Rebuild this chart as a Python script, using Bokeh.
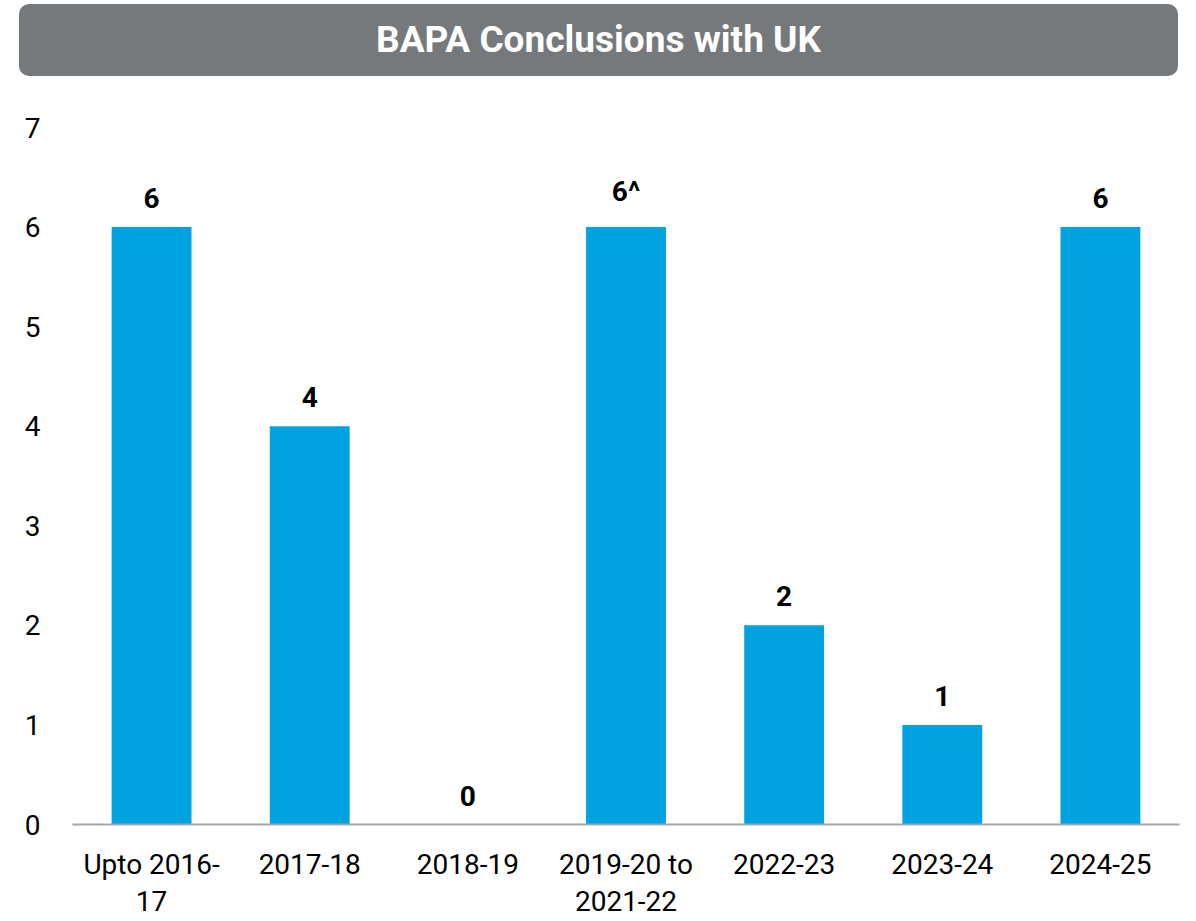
from bokeh.plotting import figure
from bokeh.models import ColumnDataSource, Div, FactorRange
from bokeh.layouts import column
from bokeh.core.properties import value
from bokeh.embed import file_html
from bokeh.resources import INLINE

categories = ["Upto 2016-\n17", "2017-18", "2018-19", "2019-20 to\n2021-22", "2022-23", "2023-24", "2024-25"]
counts = [6, 4, 0, 6, 2, 1, 6]
bar_labels = ["6", "4", "0", "6^", "2", "1", "6"]
y_ticks = [0, 1, 2, 3, 4, 5, 6, 7]

FONT = "Roboto"

title_div = Div(
    text=(
        '<div style="width:1159px;height:72px;background:#76797c;border-radius:10px;'
        'display:flex;align-items:center;justify-content:center;color:#ffffff;'
        f'font-family:{FONT};font-weight:bold;font-size:37px;">BAPA Conclusions with UK</div>'
    ),
    width=1159, height=72, margin=(4, 0, 0, 19),
)

source = ColumnDataSource(dict(cat=categories, val=counts, lab=bar_labels))

p = figure(
    x_range=FactorRange(factors=categories, range_padding=0),
    y_range=(0, 7),
    width=1190, height=845,
    output_backend="svg", toolbar_location=None,
    min_border_left=72, min_border_right=11, min_border_top=51, min_border_bottom=94,
)
p.outline_line_color = None
p.grid.grid_line_color = None

p.vbar(x="cat", top="val", width=0.505, source=source, color="#00a3e0", line_color=None)
p.text(x="cat", y="val", text="lab", source=source, y_offset=-19,
       text_align="center", text_baseline="bottom",
       text_font=value(FONT), text_font_style="bold", text_font_size="28px",
       text_color="#000000")

p.yaxis.ticker = y_ticks
p.yaxis.axis_line_color = None
p.yaxis.major_tick_line_color = None
p.yaxis.minor_tick_line_color = None
p.yaxis.major_label_standoff = 26
p.yaxis.major_label_text_font = FONT
p.yaxis.major_label_text_font_size = "28px"
p.yaxis.major_label_text_color = "#000000"

p.xaxis.axis_line_color = "#a6a6a6"
p.xaxis.axis_line_width = 2
p.xaxis.major_tick_line_color = None
p.xaxis.minor_tick_line_color = None
p.xaxis.major_label_standoff = 17
p.xaxis.major_label_text_font = FONT
p.xaxis.major_label_text_font_size = "28px"
p.xaxis.major_label_text_color = "#000000"
p.xaxis.major_label_text_line_height = 1.15

layout = column(title_div, p, spacing=0)
open("out.html", "w").write(file_html(layout, INLINE))
